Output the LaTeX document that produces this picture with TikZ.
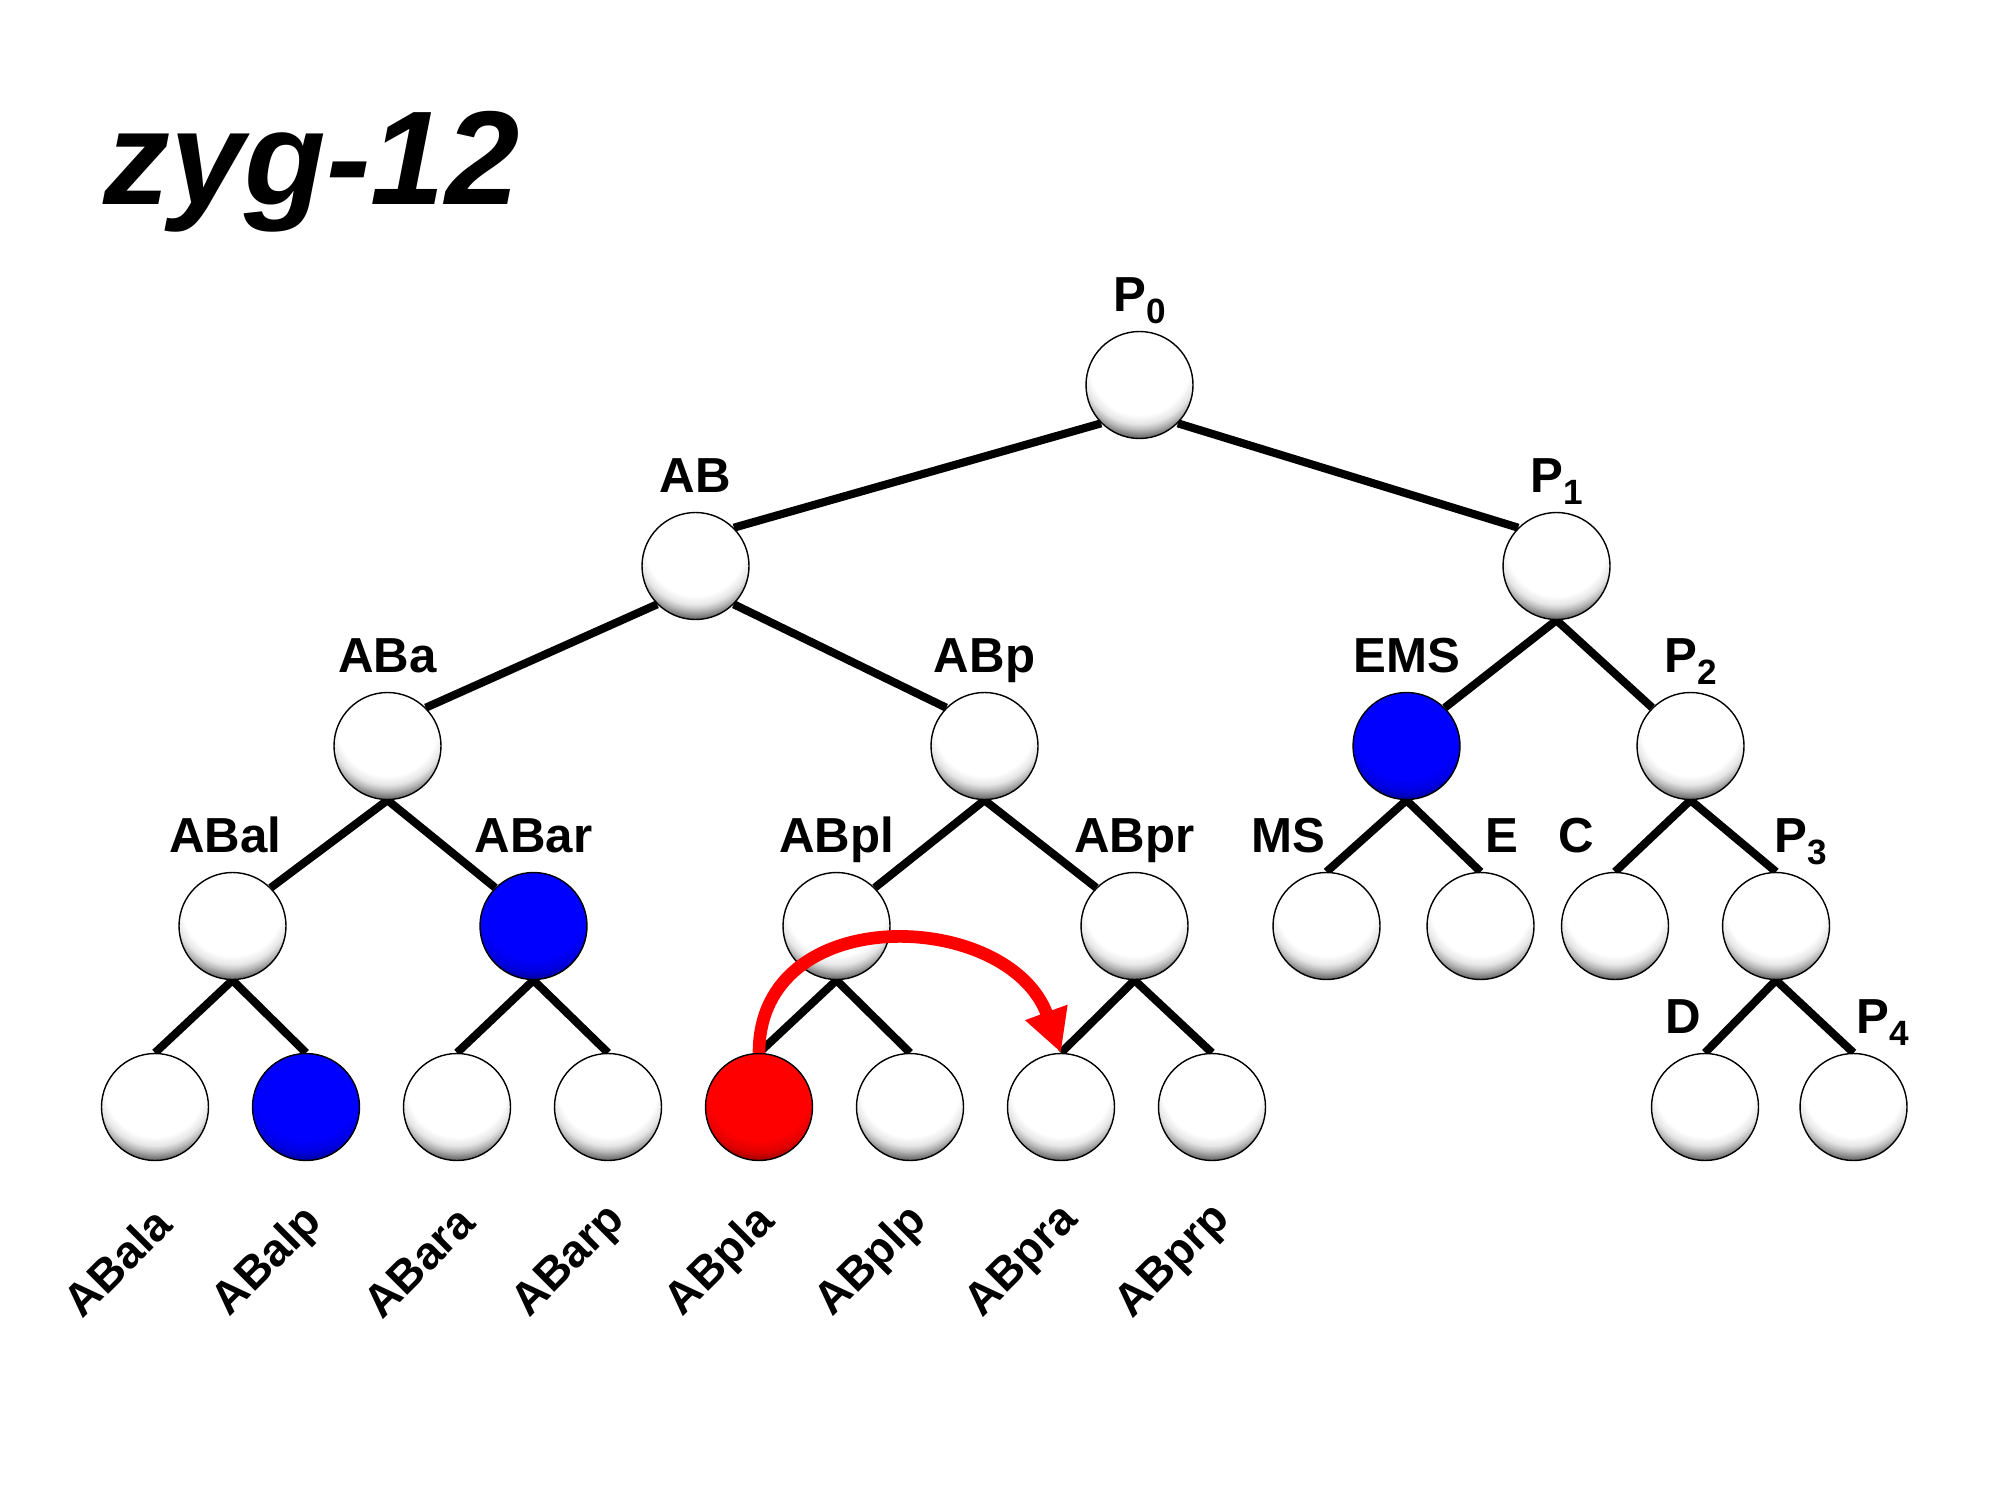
\documentclass[tikz,border=0pt]{standalone}
\usepackage{fontspec}
\setmainfont{Liberation Sans}
\usetikzlibrary{positioning,arrows.meta,backgrounds}

\pgfdeclareradialshading{whiteball}{\pgfpoint{0bp}{0bp}}{color(0bp)=(white); color(17bp)=(white); color(20bp)=(black!10); color(22bp)=(black!28); color(23.75bp)=(black!48); color(25bp)=(black!62); color(50bp)=(black!62)}
\pgfdeclareradialshading{blueball}{\pgfpoint{0bp}{0bp}}{color(0bp)=(blue); color(18bp)=(blue); color(22bp)=(blue!88!black); color(25bp)=(blue!62!black); color(50bp)=(blue!62!black)}
\pgfdeclareradialshading{redball}{\pgfpoint{0bp}{0bp}}{color(0bp)=(red); color(18bp)=(red); color(22bp)=(red!88!black); color(25bp)=(red!62!black); color(50bp)=(red!62!black)}

\newcommand{\lowsub}[1]{\raisebox{-3.4pt}{\fontsize{10}{10}\selectfont #1}}

\begin{document}
\begin{tikzpicture}[
on grid,
ball/.style={path picture={\shade[shading=#1] ([yshift=0.2cm]path picture bounding box.center) circle (0.735cm);}},
cell/.style={circle, draw=black, line width=0.4pt, minimum size=1.07cm, inner sep=0pt, fill=white, ball=whiteball},
cellblue/.style={cell, ball=blueball},
cellred/.style={cell, ball=redball},
lbl/.style={anchor=base, inner sep=0pt, label distance=0.19cm, font=\bfseries\fontsize{14}{14}\selectfont},
leaflbl/.style={rotate=45, inner sep=0pt, font=\bfseries\fontsize{13}{13}\selectfont},
branch/.style={line width=2.3pt},
jump/.style={red, line width=3.6pt, -{Triangle[length=4.3mm,width=4.2mm]}},
]
\useasboundingbox (0,0) rectangle (19.9,-14.93);

%Title
\node[anchor=base west, inner sep=0pt, font=\bfseries\itshape\fontsize{38}{38}\selectfont] (title) at (1.03,-2.05) {zyg-12};

%Cells
\node[cell, label={[lbl]above:P\lowsub{0}}] (P0) at (11.395,-3.85) {};
\node[cell, label={[lbl]above:AB}] (AB) [below left=1.81cm and 4.44cm of P0] {};
\node[cell, label={[lbl]above:P\lowsub{1}}] (P1) [below right=1.81cm and 4.17cm of P0] {};
\node[cell, label={[lbl]above:ABa}] (ABa) [below left=1.8cm and 3.08cm of AB] {};
\node[cell, label={[lbl]above:ABp}] (ABp) [below right=1.8cm and 2.89cm of AB] {};
\node[cellblue, label={[lbl]above:EMS}] (EMS) [below left=1.8cm and 1.5cm of P1] {};
\node[cell, label={[lbl]above:P\lowsub{2}}] (P2) [below right=1.8cm and 1.34cm of P1] {};
\node[cell, label={[lbl, xshift=-0.07cm]above:ABal}] (ABal) [below left=1.8cm and 1.55cm of ABa] {};
\node[cellblue, label={[lbl]above:ABar}] (ABar) [below right=1.8cm and 1.46cm of ABa] {};
\node[cell, label={[lbl]above:ABpl}] (ABpl) [below left=1.8cm and 1.48cm of ABp] {};
\node[cell, label={[lbl]above:ABpr}] (ABpr) [below right=1.8cm and 1.5cm of ABp] {};
\node[cell, label={[lbl, xshift=-0.385cm]above:MS}] (MS) [below left=1.8cm and 0.8cm of EMS] {};
\node[cell, label={[lbl, xshift=0.21cm]above:E}] (E) [below right=1.8cm and 0.74cm of EMS] {};
\node[cell, label={[lbl, xshift=-0.385cm]above:C}] (C) [below left=1.8cm and 0.755cm of P2] {};
\node[cell, label={[lbl, xshift=0.245cm]above:P\lowsub{3}}] (P3) [below right=1.8cm and 0.855cm of P2] {};
\node[cell] (ABala) [below left=1.81cm and 0.775cm of ABal] {};
\node[cellblue] (ABalp) [below right=1.81cm and 0.735cm of ABal] {};
\node[cell] (ABara) [below left=1.81cm and 0.765cm of ABar] {};
\node[cell] (ABarp) [below right=1.81cm and 0.745cm of ABar] {};
\node[cellred] (ABpla) [below left=1.81cm and 0.775cm of ABpl] {};
\node[cell] (ABplp) [below right=1.81cm and 0.735cm of ABpl] {};
\node[cell] (ABpra) [below left=1.81cm and 0.735cm of ABpr] {};
\node[cell] (ABprp) [below right=1.81cm and 0.775cm of ABpr] {};
\node[cell, label={[lbl, xshift=-0.215cm]above:D}] (D) [below left=1.81cm and 0.71cm of P3] {};
\node[cell, label={[lbl, xshift=0.29cm]above:P\lowsub{4}}] (P4) [below right=1.81cm and 0.775cm of P3] {};

%Leaf names
\node[leaflbl] (tABala) [below left=1.55cm and 0.38cm of ABala] {ABala};
\node[leaflbl] (tABalp) [below left=1.55cm and 0.38cm of ABalp] {ABalp};
\node[leaflbl] (tABara) [below left=1.55cm and 0.38cm of ABara] {ABara};
\node[leaflbl] (tABarp) [below left=1.55cm and 0.38cm of ABarp] {ABarp};
\node[leaflbl] (tABpla) [below left=1.55cm and 0.38cm of ABpla] {ABpla};
\node[leaflbl] (tABplp) [below left=1.55cm and 0.38cm of ABplp] {ABplp};
\node[leaflbl] (tABpra) [below left=1.55cm and 0.38cm of ABpra] {ABpra};
\node[leaflbl] (tABprp) [below left=1.55cm and 0.38cm of ABprp] {ABprp};

%Lines
\begin{scope}[on background layer]
\draw[branch] (AB.45) -- (P0.225);
\draw[branch] (P0.-45) -- (P1.135);
\draw[branch] (ABa.45) -- (AB.225);
\draw[branch] (AB.-45) -- (ABp.135);
\draw[branch] (EMS.45) -- (P1.south) -- (P2.135);
\draw[branch] (ABal.45) -- (ABa.south) -- (ABar.135);
\draw[branch] (ABpl.45) -- (ABp.south) -- (ABpr.135);
\draw[branch] (MS.north) -- (EMS.south) -- (E.north);
\draw[branch] (C.north) -- (P2.south) -- (P3.north);
\draw[branch] (ABala.north) -- (ABal.south) -- (ABalp.north);
\draw[branch] (ABara.north) -- (ABar.south) -- (ABarp.north);
\draw[branch] (ABpla.north) -- (ABpl.south) -- (ABplp.north);
\draw[branch] (ABpra.north) -- (ABpr.south) -- (ABprp.north);
\draw[branch] (D.north) -- (P3.south) -- (P4.north);
\end{scope}

%Arrow
\draw[jump] (ABpla.north) to[out=90, in=110, looseness=1.3] (ABpra.north);

\end{tikzpicture}
\end{document}
